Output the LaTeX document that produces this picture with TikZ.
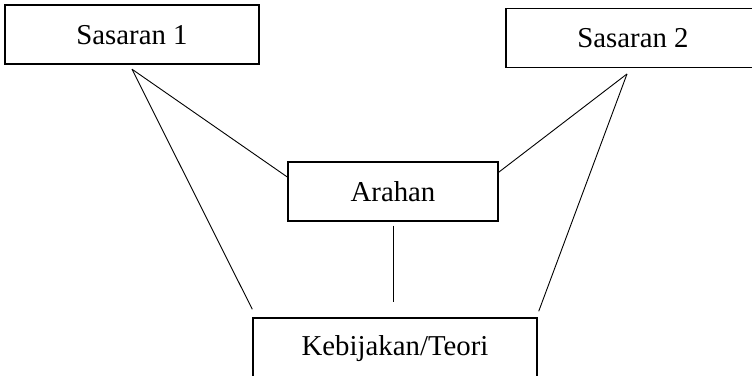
\documentclass[tikz,border=0pt]{standalone}
\usepackage{fontspec}
\setmainfont{Liberation Serif}
\usetikzlibrary{calc}
\begin{document}
\begin{tikzpicture}[x=1pt,y=-1pt,
  box/.style={draw, line width=1.4pt, inner sep=0pt, align=center,
    font=\fontsize{28.8}{34}\selectfont, text height=19.6pt, text depth=0pt},
  link/.style={line width=0.9pt}]
\useasboundingbox (0,0) rectangle (752,375);
\clip (0,0) rectangle (752,375);

% boxes
\node[box, minimum width=254pt, minimum height=59pt] (s1) at (132,34.5) {Sasaran 1};
\node[box, minimum width=254pt, minimum height=58.5pt] (s2) at (633,38) {Sasaran 2};
\node[box, minimum width=210pt, minimum height=59pt] (a) at (393,191.5) {Arahan};
\node[box, minimum width=284pt, minimum height=62pt, text depth=7pt] (k) at (395,349) {Kebijakan/Teori};

% free ends of the connectors
\coordinate (s1p) at ($(s1.south)+(0,4.5)$);
\coordinate (s2p) at ($(s2.south)+(-6,6)$);
\coordinate (aw) at ($(a.west)+(0,-14.5)$);
\coordinate (ae) at ($(a.east)+(-1,-18.5)$);
\coordinate (kw) at ($(k.north west)+(0,-8)$);
\coordinate (ke) at ($(k.north east)+(1,-6)$);
\coordinate (as) at ($(a.south)+(0,4)$);
\coordinate (kn) at ($(a.south)+(0,80)$);

% connectors
\draw[link] (s1p) -- (aw);
\draw[link] (s1p) -- (kw);
\draw[link] (s2p) -- (ae);
\draw[link] (s2p) -- (ke);
\draw[link] (as) -- (kn);
\end{tikzpicture}
\end{document}
